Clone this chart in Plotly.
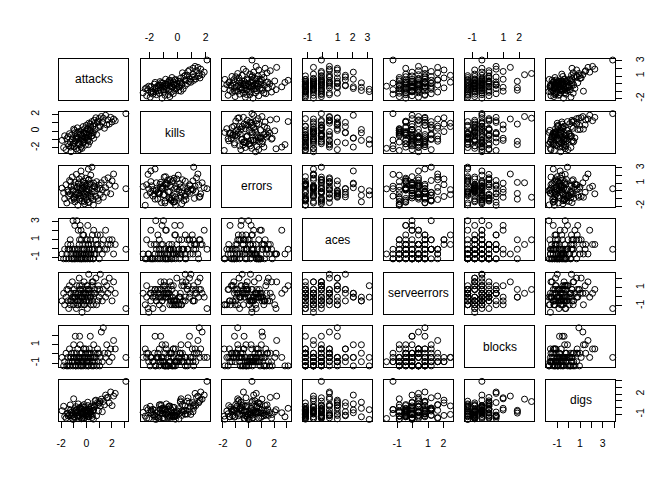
import plotly.graph_objects as go

names = ["attacks", "kills", "errors", "aces", "serveerrors", "blocks", "digs"]

attacks = [-1.93, -1.80, -1.72, -1.61, -1.55, -1.47, -1.40, -1.34, -1.28, -1.22,
           -1.17, -1.12, -1.06, -1.01, -0.97, -0.92, -0.88, -0.84, -0.80, -0.76,
           -0.72, -0.68, -0.65, -0.61, -0.57, -0.54, -0.50, -0.47, -0.43, -0.40,
           -0.36, -0.33, -0.29, -0.26, -0.22, -0.19, -0.15, -0.12, -0.08, -0.05,
           -0.01, 0.03, 0.07, 0.10, 0.14, 0.18, 0.22, 0.26, 0.30, 0.34,
           0.38, 0.43, 0.47, 0.52, 0.57, 0.62, 0.68, 0.74, 0.80, 0.87,
           0.94, 1.01, 1.09, 1.17, 1.25, 1.33, 1.42, 1.51, 1.60, 1.70,
           1.80, 1.91, 2.02, 2.14, 2.27, 0.55, -0.35, -0.95, 0.15, 3.11,
           -1.10, -0.85, -0.62, -0.45, -0.30, -0.18, -0.05, 0.08, 0.20, 0.35,
           -1.45, -1.25, -0.98, -0.70, -0.55, -0.38, -0.20, 0.00, 0.12, 0.28,
           0.45, 0.60, 0.90, 1.05]
kills = [-1.10, -1.95, -0.55, -2.20, -0.90, -1.50, -1.75, -0.30, -1.30, -2.45,
         -0.45, -0.95, -1.55, 0.25, -1.85, -0.20, -1.20, -0.65, -2.10, -1.00,
         0.40, -2.30, -0.80, -1.35, -0.05, -1.60, -1.10, -0.35, -1.90, 0.10,
         -0.90, -0.55, -1.40, 0.55, -0.15, -1.20, 0.30, -0.70, -1.65, -0.25,
         0.70, -0.45, -1.05, 0.20, -0.70, 0.95, -0.30, -1.25, 0.85, 0.05,
         -0.60, 1.15, -0.20, 0.60, -0.85, 1.30, 0.20, 1.60, -0.40, 1.05,
         0.45, 1.50, 0.55, 1.75, 1.10, 1.55, 0.35, 1.90, 0.75, 1.35,
         0.85, 1.65, 1.10, 1.45, 1.25, -0.15, -2.05, 0.10, -1.60, 2.10,
         -1.75, -0.95, -1.50, -0.40, -1.05, -0.25, -0.80, 0.30, -0.50, 0.55,
         -0.65, -1.90, -1.40, -0.10, -2.20, -0.85, -1.30, -0.05, -1.15, 0.15,
         -0.55, 0.90, 1.20, 0.70]
errors = [0.35, -0.25, -1.05, 0.80, -1.60, 0.10, -0.70, 1.35, -0.40, 0.55,
          -1.25, 1.80, 0.00, -0.85, 0.65, -1.45, 1.10, -0.15, 2.15, -0.55,
          0.40, -1.90, 0.90, -0.30, 1.55, -1.10, 0.20, -0.65, 2.60, 0.05,
          -1.35, 0.70, -0.20, 1.25, -0.80, 0.45, -1.70, 0.95, -0.45, 1.65,
          -0.05, -1.20, 0.60, -0.60, 1.40, 0.15, -1.50, 0.85, -0.35, 2.05,
          -0.90, 3.10, 0.30, -1.15, 1.00, -0.10, 0.50, -0.75, 1.20, 0.25,
          -1.30, 0.75, -0.50, 1.05, 0.10, -0.85, 1.45, 0.40, -0.20, 1.70,
          0.80, -0.40, 1.30, 2.20, 0.60, -1.85, 0.25, -0.95, 2.85, 0.27,
          0.15, -0.50, 1.05, -0.95, 0.35, -1.40, 0.75, -0.25, 1.50, -0.70,
          -0.15, 1.20, -1.10, 0.55, -0.60, 1.85, -0.35, 0.25, -1.55, 0.95,
          -0.10, 0.65, -1.00, 0.30]
aces = [-0.62, -1.16, -0.09, -1.16, -0.62, 0.45, -1.16, -0.09, 0.98, -0.62,
        -1.16, -0.09, 3.12, -0.62, -1.16, 2.59, -0.09, -1.16, -0.62, 3.12,
        -0.09, -1.16, 2.05, -0.62, 0.45, -1.16, 2.59, -0.62, 2.05, 0.98,
        -1.16, -0.09, 1.52, -1.16, 1.52, -0.62, -0.09, -1.16, 0.45, -0.62,
        0.98, -0.09, -1.16, 2.59, -0.62, 0.45, -0.09, -1.16, 0.98, -0.62,
        0.45, -0.09, 1.52, -1.16, 2.05, -0.09, -0.62, 0.98, 0.45, 1.52,
        -0.09, -1.16, 1.52, 0.45, -0.62, 0.98, -0.09, 2.05, -0.09, 0.45,
        0.98, 0.45, 0.98, -0.62, 0.45, -1.16, -0.62, -0.09, -0.62, -0.09,
        -1.16, -0.62, -0.09, -1.16, 0.45, -0.62, -1.16, 0.98, -0.09, -0.62,
        -0.09, 0.45, -1.16, -0.62, 0.98, -1.16, -0.09, -0.62, 0.45, -1.16,
        -0.09, -0.62, 0.45, -0.09]
serveerrors = [-0.45, 0.38, -0.87, -0.04, 0.80, -0.45, -1.28, 1.21, -0.87, 0.38,
               -0.45, 1.63, -0.04, -0.87, 0.80, -0.45, -0.04, 0.38, -1.28, 1.21,
               -0.45, -0.87, 0.38, -0.04, 2.04, 0.80, -0.45, -0.04, 0.38, -0.87,
               1.21, -0.04, 0.80, -0.45, 0.38, 1.63, -0.87, -0.04, 0.38, -0.45,
               0.80, 1.21, -1.28, -0.04, 0.38, 2.46, -0.45, 0.80, -0.04, -0.87,
               0.38, 1.21, -0.45, 1.63, -0.04, 0.80, 0.38, 2.04, -0.87, 0.80,
               1.21, -0.04, 2.46, 0.38, -0.45, 0.80, 1.63, -0.04, 1.21, 0.38,
               2.04, 0.80, -0.45, 1.63, 0.38, -0.87, -1.70, -0.04, 0.80, -1.28,
               -0.04, 0.38, -0.45, 0.80, -0.04, -0.87, 0.38, 1.21, -0.45, -0.04,
               0.80, -0.45, 0.38, -0.87, 1.21, -0.04, 0.38, -0.45, 0.80, -0.04,
               1.63, 0.38, -0.45, 0.80]
blocks = [-0.38, -1.29, -0.84, 0.07, -1.29, -0.38, -0.84, 0.53, -1.29, -0.38,
          0.07, -0.84, -1.29, 0.98, -0.38, -0.84, 1.89, -1.29, 0.07, -0.38,
          -0.84, 0.53, -1.29, -0.38, -0.84, 1.89, 0.98, -1.29, -0.38, -0.84,
          0.07, -0.84, -0.38, -1.29, 0.53, -0.84, -0.38, -0.38, 0.07, -1.29,
          -0.84, -0.38, -0.84, 0.07, -1.29, -0.38, 0.53, -0.84, 1.89, -0.38,
          0.07, -1.29, -0.84, -0.38, 0.98, -0.84, 0.07, -0.38, -1.29, 0.53,
          -0.84, 0.07, -0.38, 2.35, -0.84, 2.80, 0.07, -0.38, 0.98, 0.07,
          -0.84, 0.53, -0.38, 1.44, 0.53, -1.29, -0.84, -0.38, -1.29, -0.38,
          -0.84, -1.29, -0.38, 0.07, -0.84, -0.38, 0.53, -0.84, 0.07, -0.38,
          -1.29, -0.38, 0.07, -0.84, -0.38, -1.29, 0.53, -0.84, -0.38, 0.07,
          -0.84, -0.38, 0.07, -1.29]
digs = [-0.45, 0.20, -1.30, -1.55, -0.90, -0.80, -0.25, -1.10, 0.40, -0.70,
        -1.20, -1.55, -1.74, 1.30, -0.55, -1.35, -0.80, 0.15, -0.30, -0.30,
        -0.65, -1.25, 0.55, -1.60, -1.15, -0.40, -0.10, 0.05, -0.75, -1.65,
        -0.20, 0.25, -0.60, -0.95, -1.20, 0.45, -0.50, -1.45, -1.10, -0.70,
        -0.95, -0.35, -0.85, 0.80, -0.55, -1.00, -1.35, -0.25, -0.55, -0.60,
        0.20, -0.10, -1.10, -0.40, -0.35, 0.30, 1.00, 1.10, -1.20, 0.75,
        -0.50, 0.70, 0.25, 1.25, -0.60, 0.90, 0.40, 1.85, 1.45, 1.50,
        0.70, 2.30, 0.30, 1.70, 2.10, -1.70, -1.60, -0.15, -1.35, 3.87,
        -1.05, -0.45, -1.30, -0.80, -1.50, 0.05, -0.65, -1.15, -0.20, -0.95,
        -1.20, -0.35, -1.40, -0.70, -0.05, -1.00, -1.60, -0.45, 0.30, -0.80,
        -1.45, 0.10, 0.45, 0.95]

tick_vals = [[-2, -1, 0, 1, 2, 3], [-2, -1, 0, 1, 2], [-2, -1, 0, 1, 2, 3],
             [-1, 0, 1, 2, 3], [-1, 0, 1, 2], [-1, 0, 1, 2], [-1, 0, 1, 2, 3, 4]]
x_tick_text = [["-2", "", "0", "", "2", ""], ["-2", "", "0", "", "2"],
               ["-2", "", "0", "", "2", ""], ["-1", "", "1", "2", "3"],
               ["-1", "", "1", "2"], ["-1", "", "1", "2"],
               ["-1", "", "1", "", "3", ""]]
y_tick_text = [["-2", "", "", "1", "", "3"], ["-2", "", "0", "", "2"],
               ["-2", "", "", "1", "", "3"], ["-1", "", "1", "", "3"],
               ["-1", "", "1", ""], ["-1", "", "1", ""],
               ["-1", "", "", "2", "", ""]]

data = [attacks, kills, errors, aces, serveerrors, blocks, digs]
nv = len(names)

W, H = 672, 480
col_left0, col_step, col_w = 56.7, 81.5, 69.3
row_top0, row_step, row_h = 57.0, 54.0, 41.5

FONT = "Liberation Sans, Arial, sans-serif"


def var_range(v):
    lo, hi = min(v), max(v)
    pad = 0.04 * (hi - lo)
    return [lo - pad, hi + pad]


ranges = [var_range(v) for v in data]

fig = go.Figure()
layout = dict(width=W, height=H, margin=dict(l=0, r=0, t=0, b=0),
              paper_bgcolor="white", plot_bgcolor="white", showlegend=False,
              font=dict(family=FONT, color="black"))
annotations = []

for i in range(nv):
    for j in range(nv):
        n = i * nv + j + 1
        xl = col_left0 + col_step * j
        yt = row_top0 + row_step * i
        xd = [xl / W, (xl + col_w) / W]
        yd = [1 - (yt + row_h) / H, 1 - yt / H]
        xa = dict(domain=xd, range=ranges[j], anchor="y%d" % n,
                  showline=True, linecolor="black", linewidth=1, mirror=True,
                  showgrid=False, zeroline=False, ticks="", showticklabels=False,
                  fixedrange=True)
        ya = dict(domain=yd, range=ranges[i], anchor="x%d" % n,
                  showline=True, linecolor="black", linewidth=1, mirror=True,
                  showgrid=False, zeroline=False, ticks="", showticklabels=False,
                  fixedrange=True)
        tick_style = dict(ticks="outside", ticklen=6, tickwidth=1, tickcolor="black",
                          showticklabels=True,
                          tickfont=dict(family=FONT, size=10.5, color="black"))
        if (i == 0 and j % 2 == 1) or (i == nv - 1 and j % 2 == 0):
            xa.update(tick_style)
            xa.update(tickvals=tick_vals[j], ticktext=x_tick_text[j],
                      side="top" if i == 0 else "bottom", ticklabelstandoff=6)
        if (j == 0 and i % 2 == 1) or (j == nv - 1 and i % 2 == 0):
            ya.update(tick_style)
            ya.update(tickvals=tick_vals[i], ticktext=y_tick_text[i],
                      side="left" if j == 0 else "right", tickangle=-90,
                      ticklabelstandoff=9)
        layout["xaxis%d" % n] = xa
        layout["yaxis%d" % n] = ya
        if i == j:
            fig.add_trace(go.Scatter(x=[], y=[], mode="markers",
                                     xaxis="x%d" % n, yaxis="y%d" % n,
                                     hoverinfo="skip"))
            annotations.append(dict(x=(xd[0] + xd[1]) / 2, y=(yd[0] + yd[1]) / 2,
                                    xref="paper", yref="paper", text=names[i],
                                    xanchor="center", yanchor="middle",
                                    showarrow=False,
                                    font=dict(family=FONT, size=12, color="black")))
        else:
            fig.add_trace(go.Scatter(
                x=data[j], y=data[i], mode="markers",
                xaxis="x%d" % n, yaxis="y%d" % n,
                marker=dict(symbol="circle-open", size=6, color="black",
                            line=dict(width=1, color="black")),
                cliponaxis=False))

layout["annotations"] = annotations
fig.update_layout(**layout)
fig.write_html("out.html")
